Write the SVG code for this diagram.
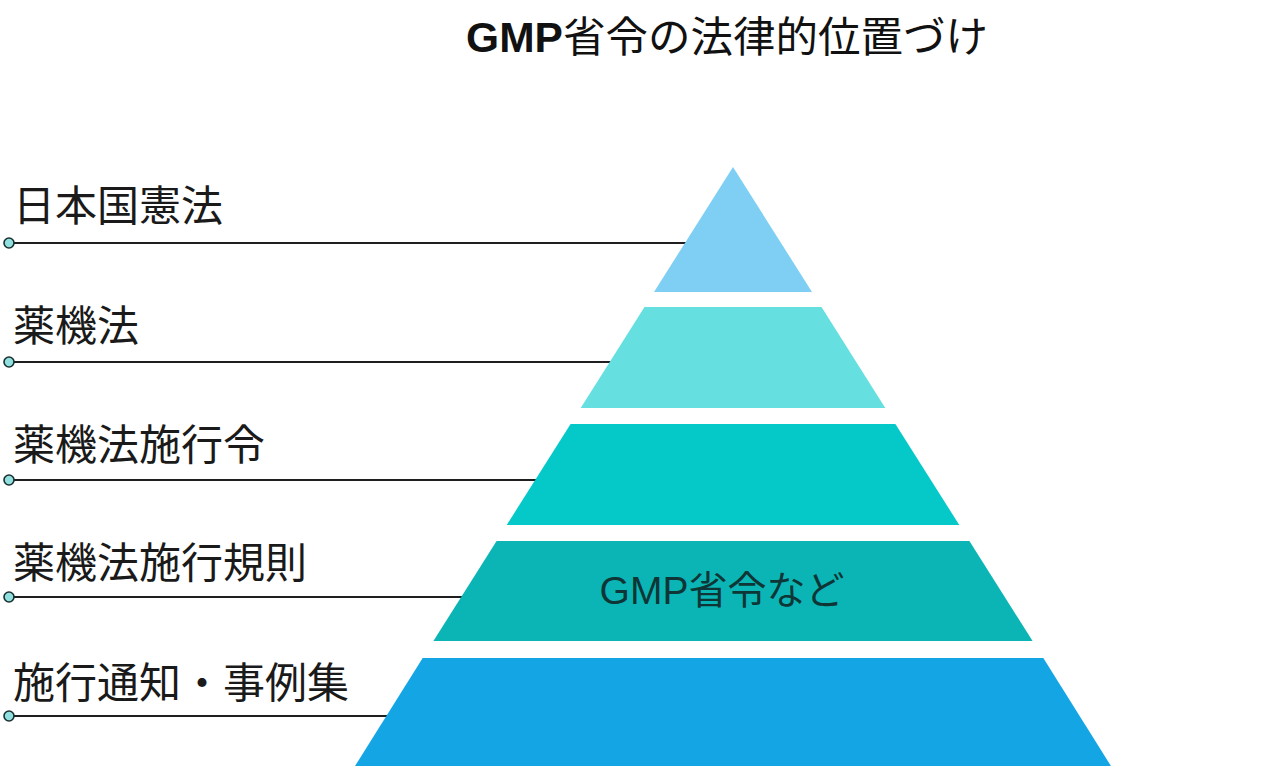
<svg xmlns="http://www.w3.org/2000/svg" width="1280" height="766" viewBox="0 0 1280 766">
<style>
.lbl{font-family:"Noto Sans CJK JP","Noto Sans",sans-serif;font-size:42px;fill:#1a1a1a}
.ttl{font-family:"Noto Sans CJK JP","Noto Sans",sans-serif;font-size:42.5px;fill:#111}
.gmp{font-family:"Liberation Sans","Noto Sans CJK JP",sans-serif;font-weight:bold}
.inner{font-family:"Liberation Sans","Noto Sans CJK JP",sans-serif;font-size:39px;fill:#0f3636}
.inner .cjk{font-family:"Noto Sans CJK JP",sans-serif}
.conn line{stroke:#1f1f1f;stroke-width:2}
.conn circle{fill:#8fe0df;stroke:#1b2f2f;stroke-width:1.6}
</style>
<rect width="1280" height="766" fill="#ffffff"/>
<text class="ttl" x="727" y="52" text-anchor="middle"><tspan class="gmp">GMP</tspan>省令の法律的位置づけ</text>
<g id="connectors" class="conn">
<line x1="9" y1="243" x2="686" y2="243"/>
<line x1="9" y1="362" x2="611" y2="362"/>
<line x1="9" y1="480" x2="536" y2="480"/>
<line x1="9" y1="597" x2="462" y2="597"/>
<line x1="9" y1="716" x2="387" y2="716"/>
<circle cx="9" cy="243" r="5"/>
<circle cx="9" cy="362" r="5"/>
<circle cx="9" cy="480" r="5"/>
<circle cx="9" cy="597" r="5"/>
<circle cx="9" cy="716" r="5"/>
</g>
<g id="tier1"><polygon points="733,167 812,292 654,292" fill="#7ecff3"/></g>
<g id="tier2"><polygon points="644.5,307 821.5,307 885.3,408 580.7,408" fill="#65dfe0"/></g>
<g id="tier3"><polygon points="570.6,424 895.4,424 959.3,525 506.7,525" fill="#05c9c9"/></g>
<g id="tier4"><polygon points="496.6,541 969.4,541 1032.6,641 433.4,641" fill="#0bb5b5"/>
<text class="inner" x="722" y="604" text-anchor="middle">GMP<tspan class="cjk">省令など</tspan></text></g>
<g id="tier5"><polygon points="422.7,658 1043.3,658 1111.6,767 354.4,767" fill="#14a5e5"/></g>
<g id="label1"><text class="lbl" x="13" y="221">日本国憲法</text></g>
<g id="label2"><text class="lbl" x="13" y="341">薬機法</text></g>
<g id="label3"><text class="lbl" x="13" y="460">薬機法施行令</text></g>
<g id="label4"><text class="lbl" x="13" y="578">薬機法施行規則</text></g>
<g id="label5"><text class="lbl" x="13" y="698">施行通知・事例集</text></g>
</svg>
